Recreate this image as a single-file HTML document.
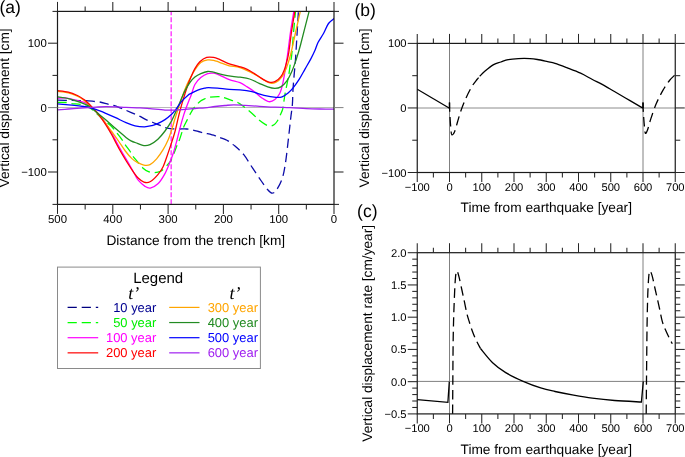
<!DOCTYPE html>
<html><head><meta charset="utf-8"><style>
html,body{margin:0;padding:0;background:#fff;}
svg{display:block;} text{text-rendering:geometricPrecision;}
</style></head><body>
<svg width="685" height="457" viewBox="0 0 685 457" style="will-change:transform">
<rect width="685" height="457" fill="#fff"/>
<line x1="57.50" y1="107.50" x2="334.00" y2="107.50" stroke="#b8b8b8" stroke-width="1.0" />
<clipPath id="ca"><rect x="57.5" y="11.4" width="276.5" height="193.0"/></clipPath>
<g clip-path="url(#ca)" fill="none" stroke-width="1.3" stroke-linejoin="round">
<line x1="171.20" y1="10.20" x2="171.20" y2="205.00" stroke="#ff44ff" stroke-width="1.5" stroke-dasharray="5 2"/>
<path d="M57.50,100.20 C59.58,100.23 66.25,100.33 70.00,100.40 C73.75,100.47 77.33,100.57 80.00,100.60 C82.67,100.63 83.52,100.45 86.00,100.60 C88.48,100.75 92.60,101.27 94.90,101.50 C97.20,101.73 97.50,101.52 99.80,102.00 C102.10,102.48 106.40,103.83 108.70,104.40 C111.00,104.97 111.47,104.73 113.60,105.40 C115.73,106.07 119.38,107.57 121.50,108.40 C123.62,109.23 124.03,109.43 126.30,110.40 C128.57,111.37 132.82,113.20 135.10,114.20 C137.38,115.20 138.10,115.45 140.00,116.40 C141.90,117.35 144.33,118.88 146.50,119.90 C148.67,120.92 150.82,121.63 153.00,122.50 C155.18,123.37 157.60,124.27 159.60,125.10 C161.60,125.93 162.78,126.88 165.00,127.50 C167.22,128.12 170.57,128.55 172.90,128.80 C175.23,129.05 176.68,128.97 179.00,129.00 C181.32,129.03 184.52,128.85 186.80,129.00 C189.08,129.15 190.40,129.37 192.70,129.90 C195.00,130.43 198.38,131.62 200.60,132.20 C202.82,132.78 203.63,132.83 206.00,133.40 C208.37,133.97 212.60,134.95 214.80,135.60 C217.00,136.25 217.02,136.43 219.20,137.30 C221.38,138.17 225.78,139.70 227.90,140.80 C230.02,141.90 230.72,143.03 231.90,143.90 C233.08,144.77 233.02,144.20 235.00,146.00 C236.98,147.80 240.88,151.05 243.80,154.70 C246.72,158.35 249.58,163.52 252.50,167.90 C255.42,172.28 258.75,177.35 261.30,181.00 C263.85,184.65 265.98,187.78 267.80,189.80 C269.62,191.82 270.73,193.10 272.20,193.10 C273.67,193.10 274.95,192.18 276.60,189.80 C278.25,187.42 280.63,183.18 282.10,178.80 C283.57,174.42 284.32,170.43 285.40,163.50 C286.48,156.57 287.70,144.87 288.60,137.20 C289.50,129.53 290.17,122.97 290.80,117.50 C291.43,112.03 292.05,108.80 292.40,104.40 C292.75,100.00 292.62,95.93 292.90,91.10 C293.18,86.27 293.70,80.22 294.10,75.40 C294.50,70.58 294.97,66.43 295.30,62.20 C295.63,57.97 295.58,58.48 296.10,50.00 C296.62,41.52 297.92,19.47 298.40,11.30 C298.88,3.13 298.90,2.72 299.00,1.00" stroke="#0c0ca8" stroke-dasharray="9.2 4.9"/>
<path d="M57.50,102.40 C59.03,102.42 64.40,102.32 66.70,102.50 C69.00,102.68 69.00,103.18 71.30,103.50 C73.60,103.82 78.05,103.98 80.50,104.40 C82.95,104.82 84.42,105.40 86.00,106.00 C87.58,106.60 88.50,107.00 90.00,108.00 C91.50,109.00 93.00,110.25 95.00,112.00 C97.00,113.75 99.40,116.23 102.00,118.50 C104.60,120.77 108.18,123.27 110.60,125.60 C113.02,127.93 114.52,130.03 116.50,132.50 C118.48,134.97 121.03,138.33 122.50,140.40 C123.97,142.47 124.02,143.05 125.30,144.90 C126.58,146.75 128.92,149.58 130.20,151.50 C131.48,153.42 132.00,154.95 133.00,156.40 C134.00,157.85 134.57,158.28 136.20,160.20 C137.83,162.12 140.75,166.00 142.80,167.90 C144.85,169.80 146.65,170.82 148.50,171.60 C150.35,172.38 151.90,172.65 153.90,172.60 C155.90,172.55 158.32,172.50 160.50,171.30 C162.68,170.10 165.25,167.25 167.00,165.40 C168.75,163.55 169.68,162.60 171.00,160.20 C172.32,157.80 173.82,153.70 174.90,151.00 C175.98,148.30 176.75,145.83 177.50,144.00 C178.25,142.17 178.67,141.93 179.40,140.00 C180.13,138.07 181.15,134.65 181.90,132.40 C182.65,130.15 183.08,128.47 183.90,126.50 C184.72,124.53 185.90,122.40 186.80,120.60 C187.70,118.80 188.23,117.67 189.30,115.70 C190.37,113.73 191.90,110.70 193.20,108.80 C194.50,106.90 195.87,105.62 197.10,104.30 C198.33,102.98 199.37,101.80 200.60,100.90 C201.83,100.00 203.05,99.52 204.50,98.90 C205.95,98.28 207.05,97.58 209.30,97.20 C211.55,96.82 215.75,96.60 218.00,96.60 C220.25,96.60 220.53,96.58 222.80,97.20 C225.07,97.82 229.40,99.58 231.60,100.30 C233.80,101.02 234.62,100.90 236.00,101.50 C237.38,102.10 238.58,103.03 239.90,103.90 C241.22,104.77 242.58,105.72 243.90,106.70 C245.22,107.68 246.03,108.30 247.80,109.80 C249.57,111.30 252.78,114.12 254.50,115.70 C256.22,117.28 256.32,117.85 258.10,119.30 C259.88,120.75 263.23,123.28 265.20,124.40 C267.17,125.52 268.43,125.93 269.90,126.00 C271.37,126.07 272.82,125.55 274.00,124.80 C275.18,124.05 276.10,122.82 277.00,121.50 C277.90,120.18 278.48,118.85 279.40,116.90 C280.32,114.95 281.78,112.17 282.50,109.80 C283.22,107.43 283.25,105.50 283.70,102.70 C284.15,99.90 284.37,97.55 285.20,93.00 C286.03,88.45 287.82,80.53 288.70,75.40 C289.58,70.27 290.00,65.60 290.50,62.20 C291.00,58.80 291.20,59.87 291.70,55.00 C292.20,50.13 292.87,40.28 293.50,33.00 C294.13,25.72 295.03,16.63 295.50,11.30 C295.97,5.97 296.17,2.72 296.30,1.00" stroke="#00ff00" stroke-dasharray="9.2 4.9"/>
<path d="M57.50,98.30 C58.78,98.23 62.38,97.65 65.20,97.90 C68.02,98.15 71.33,99.08 74.40,99.80 C77.47,100.52 81.33,101.42 83.60,102.20 C85.87,102.98 86.60,103.62 88.00,104.50 C89.40,105.38 90.08,105.75 92.00,107.50 C93.92,109.25 97.08,112.15 99.50,115.00 C101.92,117.85 104.33,121.35 106.50,124.60 C108.67,127.85 110.75,131.43 112.50,134.50 C114.25,137.57 115.42,140.08 117.00,143.00 C118.58,145.92 120.08,148.67 122.00,152.00 C123.92,155.33 126.32,159.17 128.50,163.00 C130.68,166.83 133.45,172.10 135.10,175.00 C136.75,177.90 136.75,178.50 138.40,180.40 C140.05,182.30 143.02,185.12 145.00,186.40 C146.98,187.68 148.15,188.53 150.30,188.10 C152.45,187.67 155.55,186.05 157.90,183.80 C160.25,181.55 162.43,178.10 164.40,174.60 C166.37,171.10 168.17,166.52 169.70,162.80 C171.23,159.08 172.38,156.10 173.60,152.30 C174.82,148.50 175.95,143.98 177.00,140.00 C178.05,136.02 178.92,132.13 179.90,128.40 C180.88,124.67 181.92,120.87 182.90,117.60 C183.88,114.33 184.82,111.58 185.80,108.80 C186.78,106.02 187.90,103.20 188.80,100.90 C189.70,98.60 190.18,97.73 191.20,95.00 C192.22,92.27 193.30,87.40 194.90,84.50 C196.50,81.60 198.67,79.42 200.80,77.60 C202.93,75.78 205.57,74.33 207.70,73.60 C209.83,72.87 211.63,72.95 213.60,73.20 C215.57,73.45 216.88,74.03 219.50,75.10 C222.12,76.17 225.88,78.33 229.30,79.60 C232.72,80.87 237.02,81.48 240.00,82.70 C242.98,83.92 244.80,85.40 247.20,86.90 C249.60,88.40 252.00,89.90 254.40,91.70 C256.80,93.50 259.18,96.03 261.60,97.70 C264.02,99.37 266.68,101.40 268.90,101.70 C271.12,102.00 273.10,100.87 274.90,99.50 C276.70,98.13 278.40,96.10 279.70,93.50 C281.00,90.90 281.80,87.72 282.70,83.90 C283.60,80.08 284.30,75.42 285.10,70.60 C285.90,65.78 286.60,61.43 287.50,55.00 C288.40,48.57 289.45,39.28 290.50,32.00 C291.55,24.72 293.00,16.47 293.80,11.30 C294.60,6.13 295.05,2.72 295.30,1.00" stroke="#ff00ff"/>
<path d="M57.50,91.40 C59.30,91.63 64.98,92.00 68.30,92.80 C71.62,93.60 74.85,95.00 77.40,96.20 C79.95,97.40 81.83,98.70 83.60,100.00 C85.37,101.30 86.52,102.67 88.00,104.00 C89.48,105.33 91.00,106.58 92.50,108.00 C94.00,109.42 95.13,110.38 97.00,112.50 C98.87,114.62 101.27,117.53 103.70,120.70 C106.13,123.87 109.13,128.12 111.60,131.50 C114.07,134.88 116.22,137.75 118.50,141.00 C120.78,144.25 123.07,148.07 125.30,151.00 C127.53,153.93 129.90,156.70 131.90,158.60 C133.90,160.50 135.30,161.32 137.30,162.40 C139.30,163.48 141.78,164.73 143.90,165.10 C146.02,165.47 147.88,165.63 150.00,164.60 C152.12,163.57 154.42,161.38 156.60,158.90 C158.78,156.42 161.13,152.98 163.10,149.70 C165.07,146.42 166.98,142.48 168.40,139.20 C169.82,135.92 170.42,133.70 171.60,130.00 C172.78,126.30 173.98,121.80 175.50,117.00 C177.02,112.20 179.28,105.37 180.70,101.20 C182.12,97.03 182.95,94.78 184.00,92.00 C185.05,89.22 185.92,86.92 187.00,84.50 C188.08,82.08 189.18,79.93 190.50,77.50 C191.82,75.07 193.18,72.40 194.90,69.90 C196.62,67.40 198.67,64.17 200.80,62.50 C202.93,60.83 205.57,60.27 207.70,59.90 C209.83,59.53 211.63,59.90 213.60,60.30 C215.57,60.70 216.88,61.38 219.50,62.30 C222.12,63.22 225.88,64.92 229.30,65.80 C232.72,66.68 235.82,66.20 240.00,67.60 C244.18,69.00 249.58,71.68 254.40,74.20 C259.22,76.72 265.28,81.38 268.90,82.70 C272.52,84.02 273.90,83.12 276.10,82.10 C278.30,81.08 280.40,78.92 282.10,76.60 C283.80,74.28 284.90,71.80 286.30,68.20 C287.70,64.60 289.05,60.53 290.50,55.00 C291.95,49.47 293.37,42.28 295.00,35.00 C296.63,27.72 299.05,16.97 300.30,11.30 C301.55,5.63 302.13,2.72 302.50,1.00" stroke="#ffa500"/>
<path d="M57.50,90.60 C59.30,90.85 64.98,91.28 68.30,92.10 C71.62,92.92 74.85,94.32 77.40,95.50 C79.95,96.68 82.00,98.12 83.60,99.20 C85.20,100.28 85.62,100.72 87.00,102.00 C88.38,103.28 89.93,104.77 91.90,106.90 C93.87,109.03 96.50,111.85 98.80,114.80 C101.10,117.75 103.57,121.32 105.70,124.60 C107.83,127.88 109.88,131.43 111.60,134.50 C113.32,137.57 114.45,140.08 116.00,143.00 C117.55,145.92 118.98,148.67 120.90,152.00 C122.82,155.33 125.32,159.53 127.50,163.00 C129.68,166.47 132.18,170.25 134.00,172.80 C135.82,175.35 136.75,176.75 138.40,178.30 C140.05,179.85 141.97,181.52 143.90,182.10 C145.83,182.68 147.67,183.05 150.00,181.80 C152.33,180.55 155.72,177.12 157.90,174.60 C160.08,172.08 161.58,169.77 163.10,166.70 C164.62,163.63 165.68,159.92 167.00,156.20 C168.32,152.48 169.78,148.10 171.00,144.40 C172.22,140.70 173.47,136.82 174.30,134.00 C175.13,131.18 175.22,130.72 176.00,127.50 C176.78,124.28 178.02,118.63 179.00,114.70 C179.98,110.77 180.92,107.35 181.90,103.90 C182.88,100.45 183.88,97.23 184.90,94.00 C185.92,90.77 186.98,87.33 188.00,84.50 C189.02,81.67 189.85,79.63 191.00,77.00 C192.15,74.37 193.43,71.23 194.90,68.70 C196.37,66.17 197.83,63.68 199.80,61.80 C201.77,59.92 204.40,58.13 206.70,57.40 C209.00,56.67 211.47,57.07 213.60,57.40 C215.73,57.73 216.88,58.33 219.50,59.40 C222.12,60.47 225.88,62.57 229.30,63.80 C232.72,65.03 237.02,65.87 240.00,66.80 C242.98,67.73 244.80,68.27 247.20,69.40 C249.60,70.53 252.00,72.10 254.40,73.60 C256.80,75.10 259.18,76.98 261.60,78.40 C264.02,79.82 266.68,81.55 268.90,82.10 C271.12,82.65 272.90,82.62 274.90,81.70 C276.90,80.78 279.30,78.65 280.90,76.60 C282.50,74.55 283.50,72.00 284.50,69.40 C285.50,66.80 286.20,63.73 286.90,61.00 C287.60,58.27 287.93,57.83 288.70,53.00 C289.47,48.17 290.48,38.95 291.50,32.00 C292.52,25.05 294.02,16.47 294.80,11.30 C295.58,6.13 295.97,2.72 296.20,1.00" stroke="#ff0000"/>
<path d="M57.50,96.90 C59.30,97.18 64.98,97.87 68.30,98.60 C71.62,99.33 74.55,100.33 77.40,101.30 C80.25,102.27 83.25,103.43 85.40,104.40 C87.55,105.37 88.55,105.87 90.30,107.10 C92.05,108.33 93.33,109.70 95.90,111.80 C98.47,113.90 102.42,116.90 105.70,119.70 C108.98,122.50 112.22,125.65 115.60,128.60 C118.98,131.55 123.43,135.37 126.00,137.40 C128.57,139.43 129.12,139.82 131.00,140.80 C132.88,141.78 135.15,142.50 137.30,143.30 C139.45,144.10 141.78,145.38 143.90,145.60 C146.02,145.82 147.67,145.67 150.00,144.60 C152.33,143.53 155.40,141.47 157.90,139.20 C160.40,136.93 162.72,134.05 165.00,131.00 C167.28,127.95 169.42,124.98 171.60,120.90 C173.78,116.82 176.37,110.43 178.10,106.50 C179.83,102.57 180.85,99.95 182.00,97.30 C183.15,94.65 183.68,93.07 185.00,90.60 C186.32,88.13 188.25,84.75 189.90,82.50 C191.55,80.25 193.08,78.58 194.90,77.10 C196.72,75.62 198.67,74.53 200.80,73.60 C202.93,72.67 205.57,71.73 207.70,71.50 C209.83,71.27 211.15,71.68 213.60,72.20 C216.05,72.72 219.28,73.90 222.40,74.60 C225.52,75.30 229.37,75.97 232.30,76.40 C235.23,76.83 237.12,76.77 240.00,77.20 C242.88,77.63 246.40,77.98 249.60,79.00 C252.80,80.02 256.18,81.98 259.20,83.30 C262.22,84.62 265.08,86.05 267.70,86.90 C270.32,87.75 272.70,88.40 274.90,88.40 C277.10,88.40 278.90,88.15 280.90,86.90 C282.90,85.65 285.10,83.42 286.90,80.90 C288.70,78.38 290.10,75.52 291.70,71.80 C293.30,68.08 295.03,63.07 296.50,58.60 C297.97,54.13 298.40,52.88 300.50,45.00 C302.60,37.12 307.18,18.63 309.10,11.30 C311.02,3.97 311.52,2.72 312.00,1.00" stroke="#228b22"/>
<path d="M57.50,103.90 C58.92,104.02 63.18,104.37 66.00,104.60 C68.82,104.83 71.47,104.98 74.40,105.30 C77.33,105.62 81.17,106.13 83.60,106.50 C86.03,106.87 86.95,107.02 89.00,107.50 C91.05,107.98 93.12,108.43 95.90,109.40 C98.68,110.37 102.42,111.92 105.70,113.30 C108.98,114.68 112.22,116.13 115.60,117.70 C118.98,119.27 122.77,121.35 126.00,122.70 C129.23,124.05 131.92,125.12 135.00,125.80 C138.08,126.48 141.67,126.83 144.50,126.80 C147.33,126.77 149.92,126.10 152.00,125.60 C154.08,125.10 154.83,124.80 157.00,123.80 C159.17,122.80 162.57,121.18 165.00,119.60 C167.43,118.02 169.77,116.03 171.60,114.30 C173.43,112.57 174.28,111.38 176.00,109.20 C177.72,107.02 179.90,103.53 181.90,101.20 C183.90,98.87 186.45,96.50 188.00,95.20 C189.55,93.90 189.57,94.25 191.20,93.40 C192.83,92.55 195.50,90.98 197.80,90.10 C200.10,89.22 203.20,88.52 205.00,88.10 C206.80,87.68 206.52,87.58 208.60,87.60 C210.68,87.62 214.05,87.90 217.50,88.20 C220.95,88.50 225.55,89.12 229.30,89.40 C233.05,89.68 236.22,89.52 240.00,89.90 C243.78,90.28 248.00,90.80 252.00,91.70 C256.00,92.60 259.98,94.37 264.00,95.30 C268.02,96.23 273.08,97.05 276.10,97.30 C279.12,97.55 280.10,97.53 282.10,96.80 C284.10,96.07 286.30,94.35 288.10,92.90 C289.90,91.45 291.03,90.40 292.90,88.10 C294.77,85.80 297.28,82.27 299.30,79.10 C301.32,75.93 303.10,72.43 305.00,69.10 C306.90,65.77 309.05,62.18 310.70,59.10 C312.35,56.02 313.68,53.37 314.90,50.60 C316.12,47.83 316.57,45.35 318.00,42.50 C319.43,39.65 321.75,36.67 323.50,33.50 C325.25,30.33 326.68,26.03 328.50,23.50 C330.32,20.97 333.42,19.17 334.40,18.30" stroke="#0000ff"/>
<path d="M57.50,109.90 C59.30,109.75 64.47,109.30 68.30,109.00 C72.13,108.70 77.05,108.35 80.50,108.10 C83.95,107.85 86.43,107.67 89.00,107.50 C91.57,107.33 93.12,107.23 95.90,107.10 C98.68,106.97 102.42,106.73 105.70,106.70 C108.98,106.67 112.22,106.78 115.60,106.90 C118.98,107.02 121.93,107.23 126.00,107.40 C130.07,107.57 136.00,107.68 140.00,107.90 C144.00,108.12 145.83,108.33 150.00,108.70 C154.17,109.07 160.83,109.87 165.00,110.10 C169.17,110.33 171.72,110.22 175.00,110.10 C178.28,109.98 181.37,109.67 184.70,109.40 C188.03,109.13 191.62,108.77 195.00,108.50 C198.38,108.23 201.67,108.13 205.00,107.80 C208.33,107.47 211.67,106.88 215.00,106.50 C218.33,106.12 221.87,105.78 225.00,105.50 C228.13,105.22 230.47,104.82 233.80,104.80 C237.13,104.78 240.70,105.15 245.00,105.40 C249.30,105.65 254.53,106.00 259.60,106.30 C264.67,106.60 270.33,106.97 275.40,107.20 C280.47,107.43 284.85,107.47 290.00,107.70 C295.15,107.93 301.30,108.38 306.30,108.60 C311.30,108.82 315.22,108.90 320.00,109.00 C324.78,109.10 332.50,109.17 335.00,109.20" stroke="#a020f0"/>
</g>
<rect x="57.5" y="11.4" width="276.5" height="193.0" fill="none" stroke="#1a1a1a" stroke-width="1.2"/>
<line x1="334.00" y1="11.40" x2="334.00" y2="1.90" stroke="#262626" stroke-width="1.05" />
<line x1="334.00" y1="204.40" x2="334.00" y2="213.90" stroke="#262626" stroke-width="1.05" />
<text x="334.00" y="222.70" font-family="'Liberation Sans',sans-serif" font-size="11.4" fill="#000" text-anchor="middle" >0</text>
<line x1="306.35" y1="11.40" x2="306.35" y2="6.40" stroke="#262626" stroke-width="1.05" />
<line x1="306.35" y1="204.40" x2="306.35" y2="209.40" stroke="#262626" stroke-width="1.05" />
<line x1="278.70" y1="11.40" x2="278.70" y2="1.90" stroke="#262626" stroke-width="1.05" />
<line x1="278.70" y1="204.40" x2="278.70" y2="213.90" stroke="#262626" stroke-width="1.05" />
<text x="278.70" y="222.70" font-family="'Liberation Sans',sans-serif" font-size="11.4" fill="#000" text-anchor="middle" >100</text>
<line x1="251.05" y1="11.40" x2="251.05" y2="6.40" stroke="#262626" stroke-width="1.05" />
<line x1="251.05" y1="204.40" x2="251.05" y2="209.40" stroke="#262626" stroke-width="1.05" />
<line x1="223.40" y1="11.40" x2="223.40" y2="1.90" stroke="#262626" stroke-width="1.05" />
<line x1="223.40" y1="204.40" x2="223.40" y2="213.90" stroke="#262626" stroke-width="1.05" />
<text x="223.40" y="222.70" font-family="'Liberation Sans',sans-serif" font-size="11.4" fill="#000" text-anchor="middle" >200</text>
<line x1="195.75" y1="11.40" x2="195.75" y2="6.40" stroke="#262626" stroke-width="1.05" />
<line x1="195.75" y1="204.40" x2="195.75" y2="209.40" stroke="#262626" stroke-width="1.05" />
<line x1="168.10" y1="11.40" x2="168.10" y2="1.90" stroke="#262626" stroke-width="1.05" />
<line x1="168.10" y1="204.40" x2="168.10" y2="213.90" stroke="#262626" stroke-width="1.05" />
<text x="168.10" y="222.70" font-family="'Liberation Sans',sans-serif" font-size="11.4" fill="#000" text-anchor="middle" >300</text>
<line x1="140.45" y1="11.40" x2="140.45" y2="6.40" stroke="#262626" stroke-width="1.05" />
<line x1="140.45" y1="204.40" x2="140.45" y2="209.40" stroke="#262626" stroke-width="1.05" />
<line x1="112.80" y1="11.40" x2="112.80" y2="1.90" stroke="#262626" stroke-width="1.05" />
<line x1="112.80" y1="204.40" x2="112.80" y2="213.90" stroke="#262626" stroke-width="1.05" />
<text x="112.80" y="222.70" font-family="'Liberation Sans',sans-serif" font-size="11.4" fill="#000" text-anchor="middle" >400</text>
<line x1="85.15" y1="11.40" x2="85.15" y2="6.40" stroke="#262626" stroke-width="1.05" />
<line x1="85.15" y1="204.40" x2="85.15" y2="209.40" stroke="#262626" stroke-width="1.05" />
<line x1="57.50" y1="11.40" x2="57.50" y2="1.90" stroke="#262626" stroke-width="1.05" />
<line x1="57.50" y1="204.40" x2="57.50" y2="213.90" stroke="#262626" stroke-width="1.05" />
<text x="57.50" y="222.70" font-family="'Liberation Sans',sans-serif" font-size="11.4" fill="#000" text-anchor="middle" >500</text>
<line x1="57.50" y1="204.40" x2="52.50" y2="204.40" stroke="#262626" stroke-width="1.05" />
<line x1="334.00" y1="204.40" x2="339.00" y2="204.40" stroke="#262626" stroke-width="1.05" />
<line x1="57.50" y1="172.00" x2="48.00" y2="172.00" stroke="#262626" stroke-width="1.05" />
<line x1="334.00" y1="172.00" x2="343.50" y2="172.00" stroke="#262626" stroke-width="1.05" />
<text x="46.80" y="176.10" font-family="'Liberation Sans',sans-serif" font-size="11.4" fill="#000" text-anchor="end" >&#8722;100</text>
<line x1="57.50" y1="139.80" x2="52.50" y2="139.80" stroke="#262626" stroke-width="1.05" />
<line x1="334.00" y1="139.80" x2="339.00" y2="139.80" stroke="#262626" stroke-width="1.05" />
<line x1="57.50" y1="107.60" x2="48.00" y2="107.60" stroke="#808080" stroke-width="1.0" />
<line x1="334.00" y1="107.60" x2="343.50" y2="107.60" stroke="#808080" stroke-width="1.0" />
<text x="46.80" y="111.70" font-family="'Liberation Sans',sans-serif" font-size="11.4" fill="#000" text-anchor="end" >0</text>
<line x1="57.50" y1="75.40" x2="52.50" y2="75.40" stroke="#262626" stroke-width="1.05" />
<line x1="334.00" y1="75.40" x2="339.00" y2="75.40" stroke="#262626" stroke-width="1.05" />
<line x1="57.50" y1="43.20" x2="48.00" y2="43.20" stroke="#262626" stroke-width="1.05" />
<line x1="334.00" y1="43.20" x2="343.50" y2="43.20" stroke="#262626" stroke-width="1.05" />
<text x="46.80" y="47.30" font-family="'Liberation Sans',sans-serif" font-size="11.4" fill="#000" text-anchor="end" >100</text>
<line x1="57.50" y1="11.40" x2="52.50" y2="11.40" stroke="#262626" stroke-width="1.05" />
<line x1="334.00" y1="11.40" x2="339.00" y2="11.40" stroke="#262626" stroke-width="1.05" />
<text x="195.80" y="244.60" font-family="'Liberation Sans',sans-serif" font-size="13.7" fill="#000" text-anchor="middle" >Distance from the trench [km]</text>
<text x="9.30" y="107.90" font-family="'Liberation Sans',sans-serif" font-size="13.7" fill="#000" text-anchor="middle" transform="rotate(-90 9.3 107.9)">Vertical displacement [cm]</text>
<text x="-0.50" y="13.00" font-family="'Liberation Sans',sans-serif" font-size="17.5" fill="#000" text-anchor="start" >(a)</text>
<rect x="57.5" y="267.1" width="202.9" height="101.4" fill="none" stroke="#8a8a8a" stroke-width="1.0"/>
<text x="158.20" y="282.50" font-family="'Liberation Sans',sans-serif" font-size="15" fill="#000" text-anchor="middle" >Legend</text>
<text x="128.30" y="298.80" font-family="'Liberation Serif',serif" font-size="18" fill="#000" text-anchor="start" font-style="italic">t&#8217;</text>
<text x="229.60" y="298.80" font-family="'Liberation Serif',serif" font-size="18" fill="#000" text-anchor="start" font-style="italic">t&#8217;</text>
<line x1="67.60" y1="307.40" x2="98.20" y2="307.40" stroke="#000080" stroke-width="1.2" stroke-dasharray="9.2 4.9" stroke-linecap="butt"/>
<text x="156.30" y="311.80" font-family="'Liberation Sans',sans-serif" font-size="12.95" fill="#000090" text-anchor="end" >10 year</text>
<line x1="67.60" y1="322.55" x2="98.20" y2="322.55" stroke="#00ff00" stroke-width="1.2" stroke-dasharray="9.2 4.9" stroke-linecap="butt"/>
<text x="156.30" y="326.95" font-family="'Liberation Sans',sans-serif" font-size="12.95" fill="#00ee00" text-anchor="end" >50 year</text>
<line x1="67.60" y1="337.70" x2="98.20" y2="337.70" stroke="#ff00ff" stroke-width="1.2" />
<text x="156.30" y="342.10" font-family="'Liberation Sans',sans-serif" font-size="12.95" fill="#ff00ff" text-anchor="end" >100 year</text>
<line x1="67.60" y1="352.85" x2="98.20" y2="352.85" stroke="#ff0000" stroke-width="1.2" />
<text x="156.30" y="357.25" font-family="'Liberation Sans',sans-serif" font-size="12.95" fill="#ff0000" text-anchor="end" >200 year</text>
<line x1="169.20" y1="307.40" x2="199.50" y2="307.40" stroke="#ffa500" stroke-width="1.2" />
<text x="258.00" y="311.80" font-family="'Liberation Sans',sans-serif" font-size="12.95" fill="#ffa500" text-anchor="end" >300 year</text>
<line x1="169.20" y1="322.55" x2="199.50" y2="322.55" stroke="#228b22" stroke-width="1.2" />
<text x="258.00" y="326.95" font-family="'Liberation Sans',sans-serif" font-size="12.95" fill="#228b22" text-anchor="end" >400 year</text>
<line x1="169.20" y1="337.70" x2="199.50" y2="337.70" stroke="#0000ff" stroke-width="1.2" />
<text x="258.00" y="342.10" font-family="'Liberation Sans',sans-serif" font-size="12.95" fill="#0000ff" text-anchor="end" >500 year</text>
<line x1="169.20" y1="352.85" x2="199.50" y2="352.85" stroke="#a020f0" stroke-width="1.2" />
<text x="258.00" y="357.25" font-family="'Liberation Sans',sans-serif" font-size="12.95" fill="#a020f0" text-anchor="end" >600 year</text>
<line x1="417.25" y1="108.00" x2="675.25" y2="108.00" stroke="#8c8c8c" stroke-width="1.0" />
<line x1="449.50" y1="43.40" x2="449.50" y2="172.50" stroke="#808080" stroke-width="1.0" />
<line x1="643.00" y1="43.40" x2="643.00" y2="172.50" stroke="#808080" stroke-width="1.0" />
<rect x="417.25" y="43.4" width="258.0" height="129.1" fill="none" stroke="#1a1a1a" stroke-width="1.2"/>
<line x1="417.25" y1="43.40" x2="417.25" y2="33.90" stroke="#262626" stroke-width="1.05" />
<line x1="417.25" y1="172.50" x2="417.25" y2="182.00" stroke="#262626" stroke-width="1.05" />
<text x="417.25" y="191.00" font-family="'Liberation Sans',sans-serif" font-size="11.2" fill="#000" text-anchor="middle" >&#8722;100</text>
<line x1="433.38" y1="43.40" x2="433.38" y2="38.40" stroke="#262626" stroke-width="1.05" />
<line x1="433.38" y1="172.50" x2="433.38" y2="177.50" stroke="#262626" stroke-width="1.05" />
<line x1="449.50" y1="43.40" x2="449.50" y2="33.90" stroke="#262626" stroke-width="1.05" />
<line x1="449.50" y1="172.50" x2="449.50" y2="182.00" stroke="#262626" stroke-width="1.05" />
<text x="449.50" y="191.00" font-family="'Liberation Sans',sans-serif" font-size="11.2" fill="#000" text-anchor="middle" >0</text>
<line x1="465.62" y1="43.40" x2="465.62" y2="38.40" stroke="#262626" stroke-width="1.05" />
<line x1="465.62" y1="172.50" x2="465.62" y2="177.50" stroke="#262626" stroke-width="1.05" />
<line x1="481.75" y1="43.40" x2="481.75" y2="33.90" stroke="#262626" stroke-width="1.05" />
<line x1="481.75" y1="172.50" x2="481.75" y2="182.00" stroke="#262626" stroke-width="1.05" />
<text x="481.75" y="191.00" font-family="'Liberation Sans',sans-serif" font-size="11.2" fill="#000" text-anchor="middle" >100</text>
<line x1="497.88" y1="43.40" x2="497.88" y2="38.40" stroke="#262626" stroke-width="1.05" />
<line x1="497.88" y1="172.50" x2="497.88" y2="177.50" stroke="#262626" stroke-width="1.05" />
<line x1="514.00" y1="43.40" x2="514.00" y2="33.90" stroke="#262626" stroke-width="1.05" />
<line x1="514.00" y1="172.50" x2="514.00" y2="182.00" stroke="#262626" stroke-width="1.05" />
<text x="514.00" y="191.00" font-family="'Liberation Sans',sans-serif" font-size="11.2" fill="#000" text-anchor="middle" >200</text>
<line x1="530.12" y1="43.40" x2="530.12" y2="38.40" stroke="#262626" stroke-width="1.05" />
<line x1="530.12" y1="172.50" x2="530.12" y2="177.50" stroke="#262626" stroke-width="1.05" />
<line x1="546.25" y1="43.40" x2="546.25" y2="33.90" stroke="#262626" stroke-width="1.05" />
<line x1="546.25" y1="172.50" x2="546.25" y2="182.00" stroke="#262626" stroke-width="1.05" />
<text x="546.25" y="191.00" font-family="'Liberation Sans',sans-serif" font-size="11.2" fill="#000" text-anchor="middle" >300</text>
<line x1="562.38" y1="43.40" x2="562.38" y2="38.40" stroke="#262626" stroke-width="1.05" />
<line x1="562.38" y1="172.50" x2="562.38" y2="177.50" stroke="#262626" stroke-width="1.05" />
<line x1="578.50" y1="43.40" x2="578.50" y2="33.90" stroke="#262626" stroke-width="1.05" />
<line x1="578.50" y1="172.50" x2="578.50" y2="182.00" stroke="#262626" stroke-width="1.05" />
<text x="578.50" y="191.00" font-family="'Liberation Sans',sans-serif" font-size="11.2" fill="#000" text-anchor="middle" >400</text>
<line x1="594.62" y1="43.40" x2="594.62" y2="38.40" stroke="#262626" stroke-width="1.05" />
<line x1="594.62" y1="172.50" x2="594.62" y2="177.50" stroke="#262626" stroke-width="1.05" />
<line x1="610.75" y1="43.40" x2="610.75" y2="33.90" stroke="#262626" stroke-width="1.05" />
<line x1="610.75" y1="172.50" x2="610.75" y2="182.00" stroke="#262626" stroke-width="1.05" />
<text x="610.75" y="191.00" font-family="'Liberation Sans',sans-serif" font-size="11.2" fill="#000" text-anchor="middle" >500</text>
<line x1="626.88" y1="43.40" x2="626.88" y2="38.40" stroke="#262626" stroke-width="1.05" />
<line x1="626.88" y1="172.50" x2="626.88" y2="177.50" stroke="#262626" stroke-width="1.05" />
<line x1="643.00" y1="43.40" x2="643.00" y2="33.90" stroke="#262626" stroke-width="1.05" />
<line x1="643.00" y1="172.50" x2="643.00" y2="182.00" stroke="#262626" stroke-width="1.05" />
<text x="643.00" y="191.00" font-family="'Liberation Sans',sans-serif" font-size="11.2" fill="#000" text-anchor="middle" >600</text>
<line x1="659.12" y1="43.40" x2="659.12" y2="38.40" stroke="#262626" stroke-width="1.05" />
<line x1="659.12" y1="172.50" x2="659.12" y2="177.50" stroke="#262626" stroke-width="1.05" />
<line x1="675.25" y1="43.40" x2="675.25" y2="33.90" stroke="#262626" stroke-width="1.05" />
<line x1="675.25" y1="172.50" x2="675.25" y2="182.00" stroke="#262626" stroke-width="1.05" />
<text x="675.25" y="191.00" font-family="'Liberation Sans',sans-serif" font-size="11.2" fill="#000" text-anchor="middle" >700</text>
<line x1="417.25" y1="172.50" x2="407.75" y2="172.50" stroke="#262626" stroke-width="1.05" />
<line x1="675.25" y1="172.50" x2="684.75" y2="172.50" stroke="#262626" stroke-width="1.05" />
<text x="406.60" y="176.50" font-family="'Liberation Sans',sans-serif" font-size="11.2" fill="#000" text-anchor="end" >&#8722;100</text>
<line x1="417.25" y1="140.22" x2="412.25" y2="140.22" stroke="#262626" stroke-width="1.05" />
<line x1="675.25" y1="140.22" x2="680.25" y2="140.22" stroke="#262626" stroke-width="1.05" />
<line x1="417.25" y1="107.95" x2="407.75" y2="107.95" stroke="#262626" stroke-width="1.05" />
<line x1="675.25" y1="107.95" x2="684.75" y2="107.95" stroke="#262626" stroke-width="1.05" />
<text x="406.60" y="111.95" font-family="'Liberation Sans',sans-serif" font-size="11.2" fill="#000" text-anchor="end" >0</text>
<line x1="417.25" y1="75.67" x2="412.25" y2="75.67" stroke="#262626" stroke-width="1.05" />
<line x1="675.25" y1="75.67" x2="680.25" y2="75.67" stroke="#262626" stroke-width="1.05" />
<line x1="417.25" y1="43.40" x2="407.75" y2="43.40" stroke="#262626" stroke-width="1.05" />
<line x1="675.25" y1="43.40" x2="684.75" y2="43.40" stroke="#262626" stroke-width="1.05" />
<text x="406.60" y="47.40" font-family="'Liberation Sans',sans-serif" font-size="11.2" fill="#000" text-anchor="end" >100</text>
<text x="546.25" y="212.40" font-family="'Liberation Sans',sans-serif" font-size="13.7" fill="#000" text-anchor="middle" >Time from earthquake [year]</text>
<text x="369.10" y="107.95" font-family="'Liberation Sans',sans-serif" font-size="13.7" fill="#000" text-anchor="middle" transform="rotate(-90 369.1 107.95)">Vertical displacement [cm]</text>
<text x="354.50" y="15.80" font-family="'Liberation Sans',sans-serif" font-size="17.5" fill="#000" text-anchor="start" >(b)</text>
<clipPath id="cb"><rect x="417.25" y="43.4" width="258.0" height="129.1"/></clipPath>
<g clip-path="url(#cb)">
<path d="M417.25,89.20 L449.50,108.30" stroke="#000" stroke-width="1.3" fill="none"/>
<line x1="449.50" y1="102.40" x2="449.50" y2="108.30" stroke="#000" stroke-width="1.3" />
<path d="M449.50,102.40 C449.52,103.38 449.48,105.37 449.60,108.30 C449.72,111.23 449.97,116.38 450.20,120.00 C450.43,123.62 450.73,127.53 451.00,130.00 C451.27,132.47 451.18,134.57 451.80,134.80 C452.42,135.03 453.75,133.53 454.70,131.40 C455.65,129.27 456.45,125.48 457.50,122.00 C458.55,118.52 459.58,114.50 461.00,110.50 C462.42,106.50 464.18,102.00 466.00,98.00 C467.82,94.00 470.07,89.58 471.90,86.50 C473.73,83.42 475.70,81.20 477.00,79.50 C478.30,77.80 479.25,76.83 479.70,76.30" stroke="#000" stroke-width="1.3" fill="none" stroke-dasharray="9.5 5"/>
<path d="M479.70,76.30 C480.55,75.45 482.48,73.15 484.80,71.20 C487.12,69.25 490.92,66.13 493.60,64.60 C496.28,63.07 498.47,62.83 500.90,62.00 C503.33,61.17 505.28,60.17 508.20,59.60 C511.12,59.03 514.77,58.77 518.40,58.60 C522.03,58.43 526.83,58.45 530.00,58.60 C533.17,58.75 534.47,58.98 537.40,59.50 C540.33,60.02 544.67,61.05 547.60,61.70 C550.53,62.35 551.80,62.40 555.00,63.40 C558.20,64.40 562.53,66.07 566.80,67.70 C571.07,69.33 576.33,71.23 580.60,73.20 C584.87,75.17 588.80,77.63 592.40,79.50 C596.00,81.37 598.60,82.43 602.20,84.40 C605.80,86.37 610.05,89.00 614.00,91.30 C617.95,93.60 621.95,95.90 625.90,98.20 C629.85,100.50 634.85,103.45 637.70,105.10 C640.55,106.75 642.12,107.60 643.00,108.10" stroke="#000" stroke-width="1.3" fill="none"/>
<line x1="643.00" y1="102.50" x2="643.00" y2="108.10" stroke="#000" stroke-width="1.3" />
<path d="M643.00,102.50 C643.03,103.75 643.00,106.42 643.20,110.00 C643.40,113.58 643.85,120.15 644.20,124.00 C644.55,127.85 644.75,132.10 645.30,133.10 C645.85,134.10 646.58,132.37 647.50,130.00 C648.42,127.63 649.33,123.30 650.80,118.90 C652.27,114.50 654.28,108.35 656.30,103.60 C658.32,98.85 660.70,94.25 662.90,90.40 C665.10,86.55 667.44,83.13 669.50,80.50 C671.56,77.87 674.29,75.58 675.25,74.60" stroke="#000" stroke-width="1.3" fill="none" stroke-dasharray="9.5 5"/>
</g>
<line x1="417.25" y1="381.40" x2="675.25" y2="381.40" stroke="#808080" stroke-width="1.0" />
<line x1="449.50" y1="252.70" x2="449.50" y2="413.90" stroke="#808080" stroke-width="1.0" />
<line x1="643.00" y1="252.70" x2="643.00" y2="413.90" stroke="#808080" stroke-width="1.0" />
<rect x="417.25" y="252.7" width="258.0" height="161.2" fill="none" stroke="#1a1a1a" stroke-width="1.2"/>
<line x1="417.25" y1="252.70" x2="417.25" y2="243.20" stroke="#262626" stroke-width="1.05" />
<line x1="417.25" y1="413.90" x2="417.25" y2="423.40" stroke="#262626" stroke-width="1.05" />
<text x="417.25" y="432.40" font-family="'Liberation Sans',sans-serif" font-size="11.2" fill="#000" text-anchor="middle" >&#8722;100</text>
<line x1="433.38" y1="252.70" x2="433.38" y2="247.70" stroke="#262626" stroke-width="1.05" />
<line x1="433.38" y1="413.90" x2="433.38" y2="418.90" stroke="#262626" stroke-width="1.05" />
<line x1="449.50" y1="252.70" x2="449.50" y2="243.20" stroke="#262626" stroke-width="1.05" />
<line x1="449.50" y1="413.90" x2="449.50" y2="423.40" stroke="#262626" stroke-width="1.05" />
<text x="449.50" y="432.40" font-family="'Liberation Sans',sans-serif" font-size="11.2" fill="#000" text-anchor="middle" >0</text>
<line x1="465.62" y1="252.70" x2="465.62" y2="247.70" stroke="#262626" stroke-width="1.05" />
<line x1="465.62" y1="413.90" x2="465.62" y2="418.90" stroke="#262626" stroke-width="1.05" />
<line x1="481.75" y1="252.70" x2="481.75" y2="243.20" stroke="#262626" stroke-width="1.05" />
<line x1="481.75" y1="413.90" x2="481.75" y2="423.40" stroke="#262626" stroke-width="1.05" />
<text x="481.75" y="432.40" font-family="'Liberation Sans',sans-serif" font-size="11.2" fill="#000" text-anchor="middle" >100</text>
<line x1="497.88" y1="252.70" x2="497.88" y2="247.70" stroke="#262626" stroke-width="1.05" />
<line x1="497.88" y1="413.90" x2="497.88" y2="418.90" stroke="#262626" stroke-width="1.05" />
<line x1="514.00" y1="252.70" x2="514.00" y2="243.20" stroke="#262626" stroke-width="1.05" />
<line x1="514.00" y1="413.90" x2="514.00" y2="423.40" stroke="#262626" stroke-width="1.05" />
<text x="514.00" y="432.40" font-family="'Liberation Sans',sans-serif" font-size="11.2" fill="#000" text-anchor="middle" >200</text>
<line x1="530.12" y1="252.70" x2="530.12" y2="247.70" stroke="#262626" stroke-width="1.05" />
<line x1="530.12" y1="413.90" x2="530.12" y2="418.90" stroke="#262626" stroke-width="1.05" />
<line x1="546.25" y1="252.70" x2="546.25" y2="243.20" stroke="#262626" stroke-width="1.05" />
<line x1="546.25" y1="413.90" x2="546.25" y2="423.40" stroke="#262626" stroke-width="1.05" />
<text x="546.25" y="432.40" font-family="'Liberation Sans',sans-serif" font-size="11.2" fill="#000" text-anchor="middle" >300</text>
<line x1="562.38" y1="252.70" x2="562.38" y2="247.70" stroke="#262626" stroke-width="1.05" />
<line x1="562.38" y1="413.90" x2="562.38" y2="418.90" stroke="#262626" stroke-width="1.05" />
<line x1="578.50" y1="252.70" x2="578.50" y2="243.20" stroke="#262626" stroke-width="1.05" />
<line x1="578.50" y1="413.90" x2="578.50" y2="423.40" stroke="#262626" stroke-width="1.05" />
<text x="578.50" y="432.40" font-family="'Liberation Sans',sans-serif" font-size="11.2" fill="#000" text-anchor="middle" >400</text>
<line x1="594.62" y1="252.70" x2="594.62" y2="247.70" stroke="#262626" stroke-width="1.05" />
<line x1="594.62" y1="413.90" x2="594.62" y2="418.90" stroke="#262626" stroke-width="1.05" />
<line x1="610.75" y1="252.70" x2="610.75" y2="243.20" stroke="#262626" stroke-width="1.05" />
<line x1="610.75" y1="413.90" x2="610.75" y2="423.40" stroke="#262626" stroke-width="1.05" />
<text x="610.75" y="432.40" font-family="'Liberation Sans',sans-serif" font-size="11.2" fill="#000" text-anchor="middle" >500</text>
<line x1="626.88" y1="252.70" x2="626.88" y2="247.70" stroke="#262626" stroke-width="1.05" />
<line x1="626.88" y1="413.90" x2="626.88" y2="418.90" stroke="#262626" stroke-width="1.05" />
<line x1="643.00" y1="252.70" x2="643.00" y2="243.20" stroke="#262626" stroke-width="1.05" />
<line x1="643.00" y1="413.90" x2="643.00" y2="423.40" stroke="#262626" stroke-width="1.05" />
<text x="643.00" y="432.40" font-family="'Liberation Sans',sans-serif" font-size="11.2" fill="#000" text-anchor="middle" >600</text>
<line x1="659.12" y1="252.70" x2="659.12" y2="247.70" stroke="#262626" stroke-width="1.05" />
<line x1="659.12" y1="413.90" x2="659.12" y2="418.90" stroke="#262626" stroke-width="1.05" />
<line x1="675.25" y1="252.70" x2="675.25" y2="243.20" stroke="#262626" stroke-width="1.05" />
<line x1="675.25" y1="413.90" x2="675.25" y2="423.40" stroke="#262626" stroke-width="1.05" />
<text x="675.25" y="432.40" font-family="'Liberation Sans',sans-serif" font-size="11.2" fill="#000" text-anchor="middle" >700</text>
<line x1="417.25" y1="413.90" x2="407.75" y2="413.90" stroke="#262626" stroke-width="1.05" />
<line x1="675.25" y1="413.90" x2="684.75" y2="413.90" stroke="#262626" stroke-width="1.05" />
<text x="406.60" y="417.90" font-family="'Liberation Sans',sans-serif" font-size="11.2" fill="#000" text-anchor="end" >&#8722;0.5</text>
<line x1="417.25" y1="407.45" x2="412.25" y2="407.45" stroke="#262626" stroke-width="1.05" />
<line x1="675.25" y1="407.45" x2="680.25" y2="407.45" stroke="#262626" stroke-width="1.05" />
<line x1="417.25" y1="401.00" x2="412.25" y2="401.00" stroke="#262626" stroke-width="1.05" />
<line x1="675.25" y1="401.00" x2="680.25" y2="401.00" stroke="#262626" stroke-width="1.05" />
<line x1="417.25" y1="394.56" x2="412.25" y2="394.56" stroke="#262626" stroke-width="1.05" />
<line x1="675.25" y1="394.56" x2="680.25" y2="394.56" stroke="#262626" stroke-width="1.05" />
<line x1="417.25" y1="388.11" x2="412.25" y2="388.11" stroke="#262626" stroke-width="1.05" />
<line x1="675.25" y1="388.11" x2="680.25" y2="388.11" stroke="#262626" stroke-width="1.05" />
<line x1="417.25" y1="381.66" x2="407.75" y2="381.66" stroke="#262626" stroke-width="1.05" />
<line x1="675.25" y1="381.66" x2="684.75" y2="381.66" stroke="#262626" stroke-width="1.05" />
<text x="406.60" y="385.66" font-family="'Liberation Sans',sans-serif" font-size="11.2" fill="#000" text-anchor="end" >0.0</text>
<line x1="417.25" y1="375.21" x2="412.25" y2="375.21" stroke="#262626" stroke-width="1.05" />
<line x1="675.25" y1="375.21" x2="680.25" y2="375.21" stroke="#262626" stroke-width="1.05" />
<line x1="417.25" y1="368.76" x2="412.25" y2="368.76" stroke="#262626" stroke-width="1.05" />
<line x1="675.25" y1="368.76" x2="680.25" y2="368.76" stroke="#262626" stroke-width="1.05" />
<line x1="417.25" y1="362.32" x2="412.25" y2="362.32" stroke="#262626" stroke-width="1.05" />
<line x1="675.25" y1="362.32" x2="680.25" y2="362.32" stroke="#262626" stroke-width="1.05" />
<line x1="417.25" y1="355.87" x2="412.25" y2="355.87" stroke="#262626" stroke-width="1.05" />
<line x1="675.25" y1="355.87" x2="680.25" y2="355.87" stroke="#262626" stroke-width="1.05" />
<line x1="417.25" y1="349.42" x2="407.75" y2="349.42" stroke="#262626" stroke-width="1.05" />
<line x1="675.25" y1="349.42" x2="684.75" y2="349.42" stroke="#262626" stroke-width="1.05" />
<text x="406.60" y="353.42" font-family="'Liberation Sans',sans-serif" font-size="11.2" fill="#000" text-anchor="end" >0.5</text>
<line x1="417.25" y1="342.97" x2="412.25" y2="342.97" stroke="#262626" stroke-width="1.05" />
<line x1="675.25" y1="342.97" x2="680.25" y2="342.97" stroke="#262626" stroke-width="1.05" />
<line x1="417.25" y1="336.52" x2="412.25" y2="336.52" stroke="#262626" stroke-width="1.05" />
<line x1="675.25" y1="336.52" x2="680.25" y2="336.52" stroke="#262626" stroke-width="1.05" />
<line x1="417.25" y1="330.08" x2="412.25" y2="330.08" stroke="#262626" stroke-width="1.05" />
<line x1="675.25" y1="330.08" x2="680.25" y2="330.08" stroke="#262626" stroke-width="1.05" />
<line x1="417.25" y1="323.63" x2="412.25" y2="323.63" stroke="#262626" stroke-width="1.05" />
<line x1="675.25" y1="323.63" x2="680.25" y2="323.63" stroke="#262626" stroke-width="1.05" />
<line x1="417.25" y1="317.18" x2="407.75" y2="317.18" stroke="#262626" stroke-width="1.05" />
<line x1="675.25" y1="317.18" x2="684.75" y2="317.18" stroke="#262626" stroke-width="1.05" />
<text x="406.60" y="321.18" font-family="'Liberation Sans',sans-serif" font-size="11.2" fill="#000" text-anchor="end" >1.0</text>
<line x1="417.25" y1="310.73" x2="412.25" y2="310.73" stroke="#262626" stroke-width="1.05" />
<line x1="675.25" y1="310.73" x2="680.25" y2="310.73" stroke="#262626" stroke-width="1.05" />
<line x1="417.25" y1="304.28" x2="412.25" y2="304.28" stroke="#262626" stroke-width="1.05" />
<line x1="675.25" y1="304.28" x2="680.25" y2="304.28" stroke="#262626" stroke-width="1.05" />
<line x1="417.25" y1="297.84" x2="412.25" y2="297.84" stroke="#262626" stroke-width="1.05" />
<line x1="675.25" y1="297.84" x2="680.25" y2="297.84" stroke="#262626" stroke-width="1.05" />
<line x1="417.25" y1="291.39" x2="412.25" y2="291.39" stroke="#262626" stroke-width="1.05" />
<line x1="675.25" y1="291.39" x2="680.25" y2="291.39" stroke="#262626" stroke-width="1.05" />
<line x1="417.25" y1="284.94" x2="407.75" y2="284.94" stroke="#262626" stroke-width="1.05" />
<line x1="675.25" y1="284.94" x2="684.75" y2="284.94" stroke="#262626" stroke-width="1.05" />
<text x="406.60" y="288.94" font-family="'Liberation Sans',sans-serif" font-size="11.2" fill="#000" text-anchor="end" >1.5</text>
<line x1="417.25" y1="278.49" x2="412.25" y2="278.49" stroke="#262626" stroke-width="1.05" />
<line x1="675.25" y1="278.49" x2="680.25" y2="278.49" stroke="#262626" stroke-width="1.05" />
<line x1="417.25" y1="272.04" x2="412.25" y2="272.04" stroke="#262626" stroke-width="1.05" />
<line x1="675.25" y1="272.04" x2="680.25" y2="272.04" stroke="#262626" stroke-width="1.05" />
<line x1="417.25" y1="265.60" x2="412.25" y2="265.60" stroke="#262626" stroke-width="1.05" />
<line x1="675.25" y1="265.60" x2="680.25" y2="265.60" stroke="#262626" stroke-width="1.05" />
<line x1="417.25" y1="259.15" x2="412.25" y2="259.15" stroke="#262626" stroke-width="1.05" />
<line x1="675.25" y1="259.15" x2="680.25" y2="259.15" stroke="#262626" stroke-width="1.05" />
<line x1="417.25" y1="252.70" x2="407.75" y2="252.70" stroke="#262626" stroke-width="1.05" />
<line x1="675.25" y1="252.70" x2="684.75" y2="252.70" stroke="#262626" stroke-width="1.05" />
<text x="406.60" y="256.70" font-family="'Liberation Sans',sans-serif" font-size="11.2" fill="#000" text-anchor="end" >2.0</text>
<text x="546.25" y="453.60" font-family="'Liberation Sans',sans-serif" font-size="13.7" fill="#000" text-anchor="middle" >Time from earthquake [year]</text>
<text x="371.60" y="333.30" font-family="'Liberation Sans',sans-serif" font-size="13.7" fill="#000" text-anchor="middle" transform="rotate(-90 371.6 333.29999999999995)">Vertical displacement rate [cm/year]</text>
<text x="357.10" y="217.10" font-family="'Liberation Sans',sans-serif" font-size="17.5" fill="#000" text-anchor="start" >(c)</text>
<clipPath id="cc"><rect x="417.25" y="252.7" width="258.0" height="161.2"/></clipPath>
<g clip-path="url(#cc)">
<path d="M417.25,399.70 L447.90,402.30 L449.30,381.60" stroke="#000" stroke-width="1.3" fill="none"/>
<path d="M452.60,413.80 C452.63,409.00 452.72,396.47 452.80,385.00 C452.88,373.53 452.97,355.83 453.10,345.00 C453.23,334.17 453.43,326.67 453.60,320.00 C453.77,313.33 453.90,310.33 454.10,305.00 C454.30,299.67 454.58,292.42 454.80,288.00 C455.02,283.58 455.20,280.97 455.40,278.50 C455.60,276.03 455.78,274.48 456.00,273.20 C456.22,271.92 456.42,270.97 456.70,270.80 C456.98,270.63 457.28,271.05 457.70,272.20 C458.12,273.35 458.50,274.73 459.20,277.70 C459.90,280.67 461.02,285.92 461.90,290.00 C462.78,294.08 463.63,298.12 464.50,302.20 C465.37,306.28 466.27,311.12 467.10,314.50 C467.93,317.88 468.63,319.75 469.50,322.50 C470.37,325.25 471.22,328.08 472.30,331.00 C473.38,333.92 474.63,337.08 476.00,340.00 C477.37,342.92 479.75,347.08 480.50,348.50" stroke="#000" stroke-width="1.3" fill="none" stroke-dasharray="9.5 5"/>
<path d="M480.50,348.50 C482.52,350.87 488.40,358.68 492.60,362.70 C496.80,366.72 500.60,369.50 505.70,372.60 C510.80,375.70 517.37,378.75 523.20,381.30 C529.03,383.85 535.40,386.20 540.70,387.90 C546.00,389.60 549.52,390.28 555.00,391.50 C560.48,392.72 567.40,394.08 573.60,395.20 C579.80,396.32 585.37,397.32 592.20,398.20 C599.03,399.08 606.40,399.87 614.60,400.50 C622.80,401.13 636.93,401.75 641.40,402.00 L643.3,381.4" stroke="#000" stroke-width="1.3" fill="none"/>
<path d="M646.20,413.80 C646.25,408.17 646.37,393.97 646.50,380.00 C646.63,366.03 646.82,343.33 647.00,330.00 C647.18,316.67 647.40,307.50 647.60,300.00 C647.80,292.50 648.00,289.00 648.20,285.00 C648.40,281.00 648.62,278.12 648.80,276.00 C648.98,273.88 649.12,273.17 649.30,272.30 C649.48,271.43 649.65,270.85 649.90,270.80 C650.15,270.75 650.48,271.37 650.80,272.00 C651.12,272.63 651.42,273.33 651.80,274.60 C652.18,275.87 652.57,277.28 653.10,279.60 C653.63,281.92 654.37,285.65 655.00,288.50 C655.63,291.35 656.15,293.37 656.90,296.70 C657.65,300.03 658.58,304.30 659.50,308.50 C660.42,312.70 661.32,318.15 662.40,321.90 C663.48,325.65 664.73,328.07 666.00,331.00 C667.27,333.93 668.95,337.37 670.00,339.50 C671.05,341.63 671.92,343.08 672.30,343.80" stroke="#000" stroke-width="1.3" fill="none" stroke-dasharray="9.5 5"/>
</g>
</svg>
</body></html>
